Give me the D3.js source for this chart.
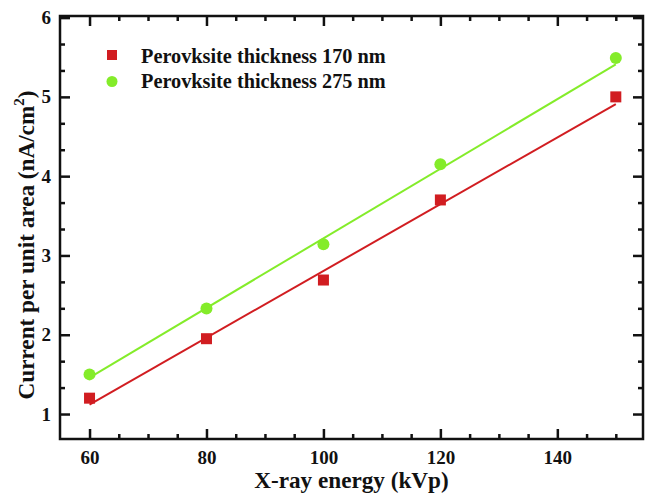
<!DOCTYPE html>
<html>
<head>
<meta charset="utf-8">
<script src="https://cdn.jsdelivr.net/npm/d3@7"></script>
<style>
  body { margin: 0; background: #fff; }
  svg text { font-family: "Liberation Serif", "Times New Roman", serif; font-weight: bold; fill: #111; }
</style>
</head>
<body>
<svg id="chart" width="646" height="494"></svg>
<script>
// values
var energy = [60, 80, 100, 120, 150];
var current170 = [1.20, 1.95, 2.69, 3.70, 5.00];
var current275 = [1.50, 2.33, 3.14, 4.15, 5.49];

// linear fit lines, endpoints as drawn
var fitEnergy = [60, 150];
var fit170 = [1.12, 4.91];
var fit275 = [1.46, 5.41];

var xTicks = [60, 80, 100, 120, 140];
var xMinor = [65, 70, 75, 85, 90, 95, 105, 110, 115, 125, 130, 135, 145, 150];
var yTicks = [1, 2, 3, 4, 5, 6];
var yMinor = [4/3, 5/3, 7/3, 8/3, 10/3, 11/3, 13/3, 14/3, 16/3, 17/3];

var seriesNames = ["Perovksite thickness 170 nm", "Perovksite thickness 275 nm"];
var red = "#d11d21", green = "#84ec2a";

var margin = {top: 16, right: 3, bottom: 55, left: 60};
var width = 646, height = 494;
var svg = d3.select("#chart");

var x = d3.scaleLinear().domain([54.95, 154.65]).range([margin.left, width - margin.right]);
var y = d3.scaleLinear().domain([0.685, 6.02]).range([height - margin.bottom, margin.top]);

var x0 = margin.left, x1 = width - margin.right;
var y0 = height - margin.bottom, y1 = margin.top;

function styleAxis(g) {
    g.select(".domain").remove();
    g.selectAll("line").attr("stroke", "#111").attr("stroke-width", 2.5);
    g.selectAll("text").attr("font-size", 19).style("font-family", '"Liberation Serif", serif').style("font-weight", "bold").attr("fill", "#111");
}

// bottom axis with labels + minor (ticks point inward, so labels use padding only)
svg.append("g").attr("transform", "translate(0," + y0 + ")")
    .call(d3.axisBottom(x).tickValues(xTicks).tickSize(-10).tickPadding(12).tickFormat(d3.format("d")))
    .call(styleAxis);
svg.append("g").attr("transform", "translate(0," + y0 + ")")
    .call(d3.axisBottom(x).tickValues(xMinor).tickSize(-5).tickFormat(""))
    .call(styleAxis);
// top axis, mirror
svg.append("g").attr("transform", "translate(0," + y1 + ")")
    .call(d3.axisTop(x).tickValues(xTicks).tickSize(-10).tickFormat(""))
    .call(styleAxis);
svg.append("g").attr("transform", "translate(0," + y1 + ")")
    .call(d3.axisTop(x).tickValues(xMinor).tickSize(-5).tickFormat(""))
    .call(styleAxis);
// left axis with labels + minor
svg.append("g").attr("transform", "translate(" + x0 + ",0)")
    .call(d3.axisLeft(y).tickValues(yTicks).tickSize(-10).tickPadding(9).tickFormat(d3.format("d")))
    .call(styleAxis);
svg.append("g").attr("transform", "translate(" + x0 + ",0)")
    .call(d3.axisLeft(y).tickValues(yMinor).tickSize(-5).tickFormat(""))
    .call(styleAxis);
// right axis, mirror
svg.append("g").attr("transform", "translate(" + x1 + ",0)")
    .call(d3.axisRight(y).tickValues(yTicks).tickSize(-10).tickFormat(""))
    .call(styleAxis);
svg.append("g").attr("transform", "translate(" + x1 + ",0)")
    .call(d3.axisRight(y).tickValues(yMinor).tickSize(-5).tickFormat(""))
    .call(styleAxis);

// frame
svg.append("rect")
    .attr("x", x0).attr("y", y1)
    .attr("width", x1 - x0).attr("height", y0 - y1)
    .attr("fill", "none").attr("stroke", "#111").attr("stroke-width", 2.5);

// fit lines
var line = d3.line().x(function(d) { return x(d[0]); }).y(function(d) { return y(d[1]); });
svg.append("path").datum(d3.zip(fitEnergy, fit170))
    .attr("d", line).attr("fill", "none").attr("stroke", red).attr("stroke-width", 2);
svg.append("path").datum(d3.zip(fitEnergy, fit275))
    .attr("d", line).attr("fill", "none").attr("stroke", green).attr("stroke-width", 2);

// markers
var sq = 11;
svg.append("g").selectAll("rect")
    .data(d3.zip(energy, current170))
    .enter().append("rect")
    .attr("x", function(d) { return x(d[0]) - sq / 2; })
    .attr("y", function(d) { return y(d[1]) - sq / 2; })
    .attr("width", sq).attr("height", sq)
    .attr("fill", red);
svg.append("g").selectAll("circle")
    .data(d3.zip(energy, current275))
    .enter().append("circle")
    .attr("cx", function(d) { return x(d[0]); })
    .attr("cy", function(d) { return y(d[1]); })
    .attr("r", 6)
    .attr("fill", green);

// legend
var legend = svg.append("g");
legend.append("rect").attr("x", 112 - 5).attr("y", 55 - 5).attr("width", 10).attr("height", 10).attr("fill", red);
legend.append("circle").attr("cx", 112).attr("cy", 81.5).attr("r", 5.5).attr("fill", green);
legend.selectAll("text")
    .data(seriesNames)
    .enter().append("text")
    .attr("x", 141)
    .attr("y", function(d, i) { return 63 + i * 24.5; })
    .attr("font-size", 20.3)
    .text(function(d) { return d; });

// axis titles
svg.append("text")
    .attr("x", (x0 + x1) / 2).attr("y", 488)
    .attr("text-anchor", "middle")
    .attr("font-size", 23.2)
    .text("X-ray energy (kVp)");

var yTitle = svg.append("text")
    .attr("transform", "translate(34,245) rotate(-90)")
    .attr("text-anchor", "middle")
    .attr("font-size", 23.2);
yTitle.append("tspan").text("Current per unit area (nA/cm");
yTitle.append("tspan").attr("dy", -10).attr("font-size", 15).text("2");
yTitle.append("tspan").attr("dy", 10).text(")");
</script>
</body>
</html>
